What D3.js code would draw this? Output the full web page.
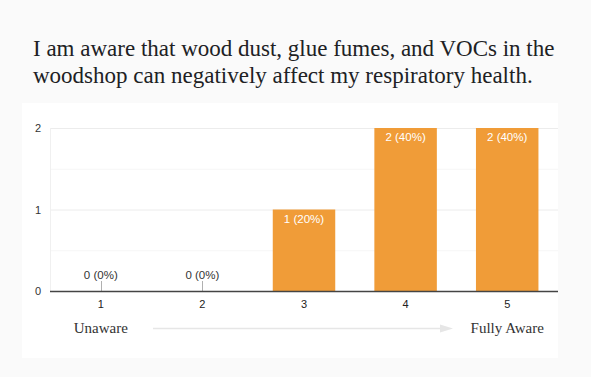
<!DOCTYPE html>
<html>
<head>
<meta charset="utf-8">
<script src="https://cdn.jsdelivr.net/npm/d3@7"></script>
<style>
  body { margin: 0; background: #fafafa; }
  #visualization { width: 591px; height: 377px; position: relative; }
  .serif { font-family: "Liberation Serif", "DejaVu Serif", serif; }
  .sans { font-family: "Liberation Sans", Arial, sans-serif; }
</style>
</head>
<body>
<div id="visualization"></div>
<script>
var titleLines = ["I am aware that wood dust, glue fumes, and VOCs in the",
                  "woodshop can negatively affect my respiratory health."];
var categories = ["1", "2", "3", "4", "5"];
var counts = [0, 0, 1, 2, 2];
var percents = [0, 0, 20, 40, 40];
var yTicks = [0, 1, 2];
var scaleLabels = ["Unaware", "Fully Aware"];

var width = 591, height = 377;
var svg = d3.select("#visualization").append("svg")
    .attr("width", width)
    .attr("height", height);

// page background + card
svg.append("rect").attr("width", width).attr("height", height).attr("fill", "#fafafa");
svg.append("rect")
    .attr("x", 22).attr("y", 103)
    .attr("width", 536).attr("height", 255)
    .attr("fill", "#ffffff");

// title
svg.append("g").selectAll("text")
    .data(titleLines)
    .enter().append("text")
    .attr("class", "serif")
    .attr("x", 33)
    .attr("y", function (d, i) { return 56 + i * 27; })
    .style("font-size", "23px")
    .attr("fill", "#202124")
    .text(function (d) { return d; });

var plot = { left: 50, right: 558, top: 128, bottom: 291 };

var xScale = d3.scaleBand()
    .domain(categories)
    .range([plot.left, plot.right])
    .paddingInner(0.385)
    .paddingOuter(0.1925);

var yScale = d3.scaleLinear()
    .domain([0, 2])
    .range([plot.bottom, plot.top]);

// gridlines (major + minor)
var grid = svg.append("g");
grid.selectAll("line.minor")
    .data([0.5, 1.5])
    .enter().append("line")
    .attr("class", "minor")
    .attr("x1", plot.left).attr("x2", plot.right)
    .attr("y1", function (d) { return yScale(d) + 0.5; })
    .attr("y2", function (d) { return yScale(d) + 0.5; })
    .attr("stroke", "#f6f6f6");
grid.selectAll("line.major")
    .data(yTicks.slice(1))
    .enter().append("line")
    .attr("class", "major")
    .attr("x1", plot.left).attr("x2", plot.right)
    .attr("y1", function (d) { return yScale(d) + 0.5; })
    .attr("y2", function (d) { return yScale(d) + 0.5; })
    .attr("stroke", "#ececec");
grid.append("line")
    .attr("x1", plot.left + 0.5).attr("x2", plot.left + 0.5)
    .attr("y1", plot.top).attr("y2", plot.bottom)
    .attr("stroke", "#f0f0f0");

// y axis
var yAxis = d3.axisLeft(yScale).tickValues(yTicks).tickFormat(d3.format("d")).tickSize(0).tickPadding(9);
svg.append("g")
    .attr("transform", "translate(" + plot.left + ",0)")
    .call(yAxis)
    .call(function (g) {
        g.select(".domain").remove();
        g.selectAll("text").attr("class", "sans").attr("font-size", 11).attr("fill", "#333");
    });

// bars
svg.selectAll(".bar")
    .data(counts)
    .enter().append("rect")
    .attr("class", "bar")
    .attr("x", function (d, i) { return xScale(categories[i]); })
    .attr("y", function (d) { return yScale(d); })
    .attr("width", xScale.bandwidth())
    .attr("height", function (d) { return plot.bottom - yScale(d); })
    .attr("fill", "#f09c38");

// small stems for zero bars
svg.selectAll(".stem")
    .data(counts)
    .enter().filter(function (d) { return d === 0; })
    .append("line")
    .attr("class", "stem")
    .attr("x1", function (d, i) { return Math.round(xScale(categories[i]) + xScale.bandwidth() / 2) + 0.5; })
    .attr("x2", function (d, i) { return Math.round(xScale(categories[i]) + xScale.bandwidth() / 2) + 0.5; })
    .attr("y1", plot.bottom - 10)
    .attr("y2", plot.bottom)
    .attr("stroke", "#b0b0b0");

// value labels
svg.selectAll(".vlabel")
    .data(counts)
    .enter().append("text")
    .attr("class", "vlabel sans")
    .attr("x", function (d, i) { return xScale(categories[i]) + xScale.bandwidth() / 2; })
    .attr("y", function (d) { return d === 0 ? plot.bottom - 12 : yScale(d) + 13; })
    .attr("text-anchor", "middle")
    .attr("font-size", 11.5)
    .attr("fill", function (d) { return d === 0 ? "#333" : "#ffffff"; })
    .text(function (d, i) { return d + " (" + percents[i] + "%)"; });

// x axis
var xAxis = d3.axisBottom(xScale).tickSize(0).tickPadding(9);
svg.append("g")
    .attr("transform", "translate(0," + plot.bottom + ")")
    .call(xAxis)
    .call(function (g) {
        g.select(".domain").remove();
        g.selectAll("text").attr("class", "sans").attr("font-size", 11).attr("fill", "#222");
    });
svg.append("line")
    .attr("x1", plot.left).attr("x2", plot.right)
    .attr("y1", plot.bottom + 0.5).attr("y2", plot.bottom + 0.5)
    .attr("stroke", "#444")
    .attr("stroke-width", 1.6);

// scale labels + arrow
var labelY = 333;
svg.selectAll(".slabel")
    .data(scaleLabels)
    .enter().append("text")
    .attr("class", "slabel serif")
    .attr("x", function (d, i) { return xScale(categories[i === 0 ? 0 : categories.length - 1]) + xScale.bandwidth() / 2; })
    .attr("y", labelY)
    .attr("text-anchor", "middle")
    .attr("font-size", 15)
    .attr("fill", "#333")
    .text(function (d) { return d; });

svg.append("line")
    .attr("x1", 153).attr("x2", 441)
    .attr("y1", 328.5).attr("y2", 328.5)
    .attr("stroke", "#e6e6e6")
    .attr("stroke-width", 1.5);
svg.append("path")
    .attr("d", "M440,324.5 L453,328.5 L440,332.5 Z")
    .attr("fill", "#e6e6e6");
</script>
</body>
</html>
